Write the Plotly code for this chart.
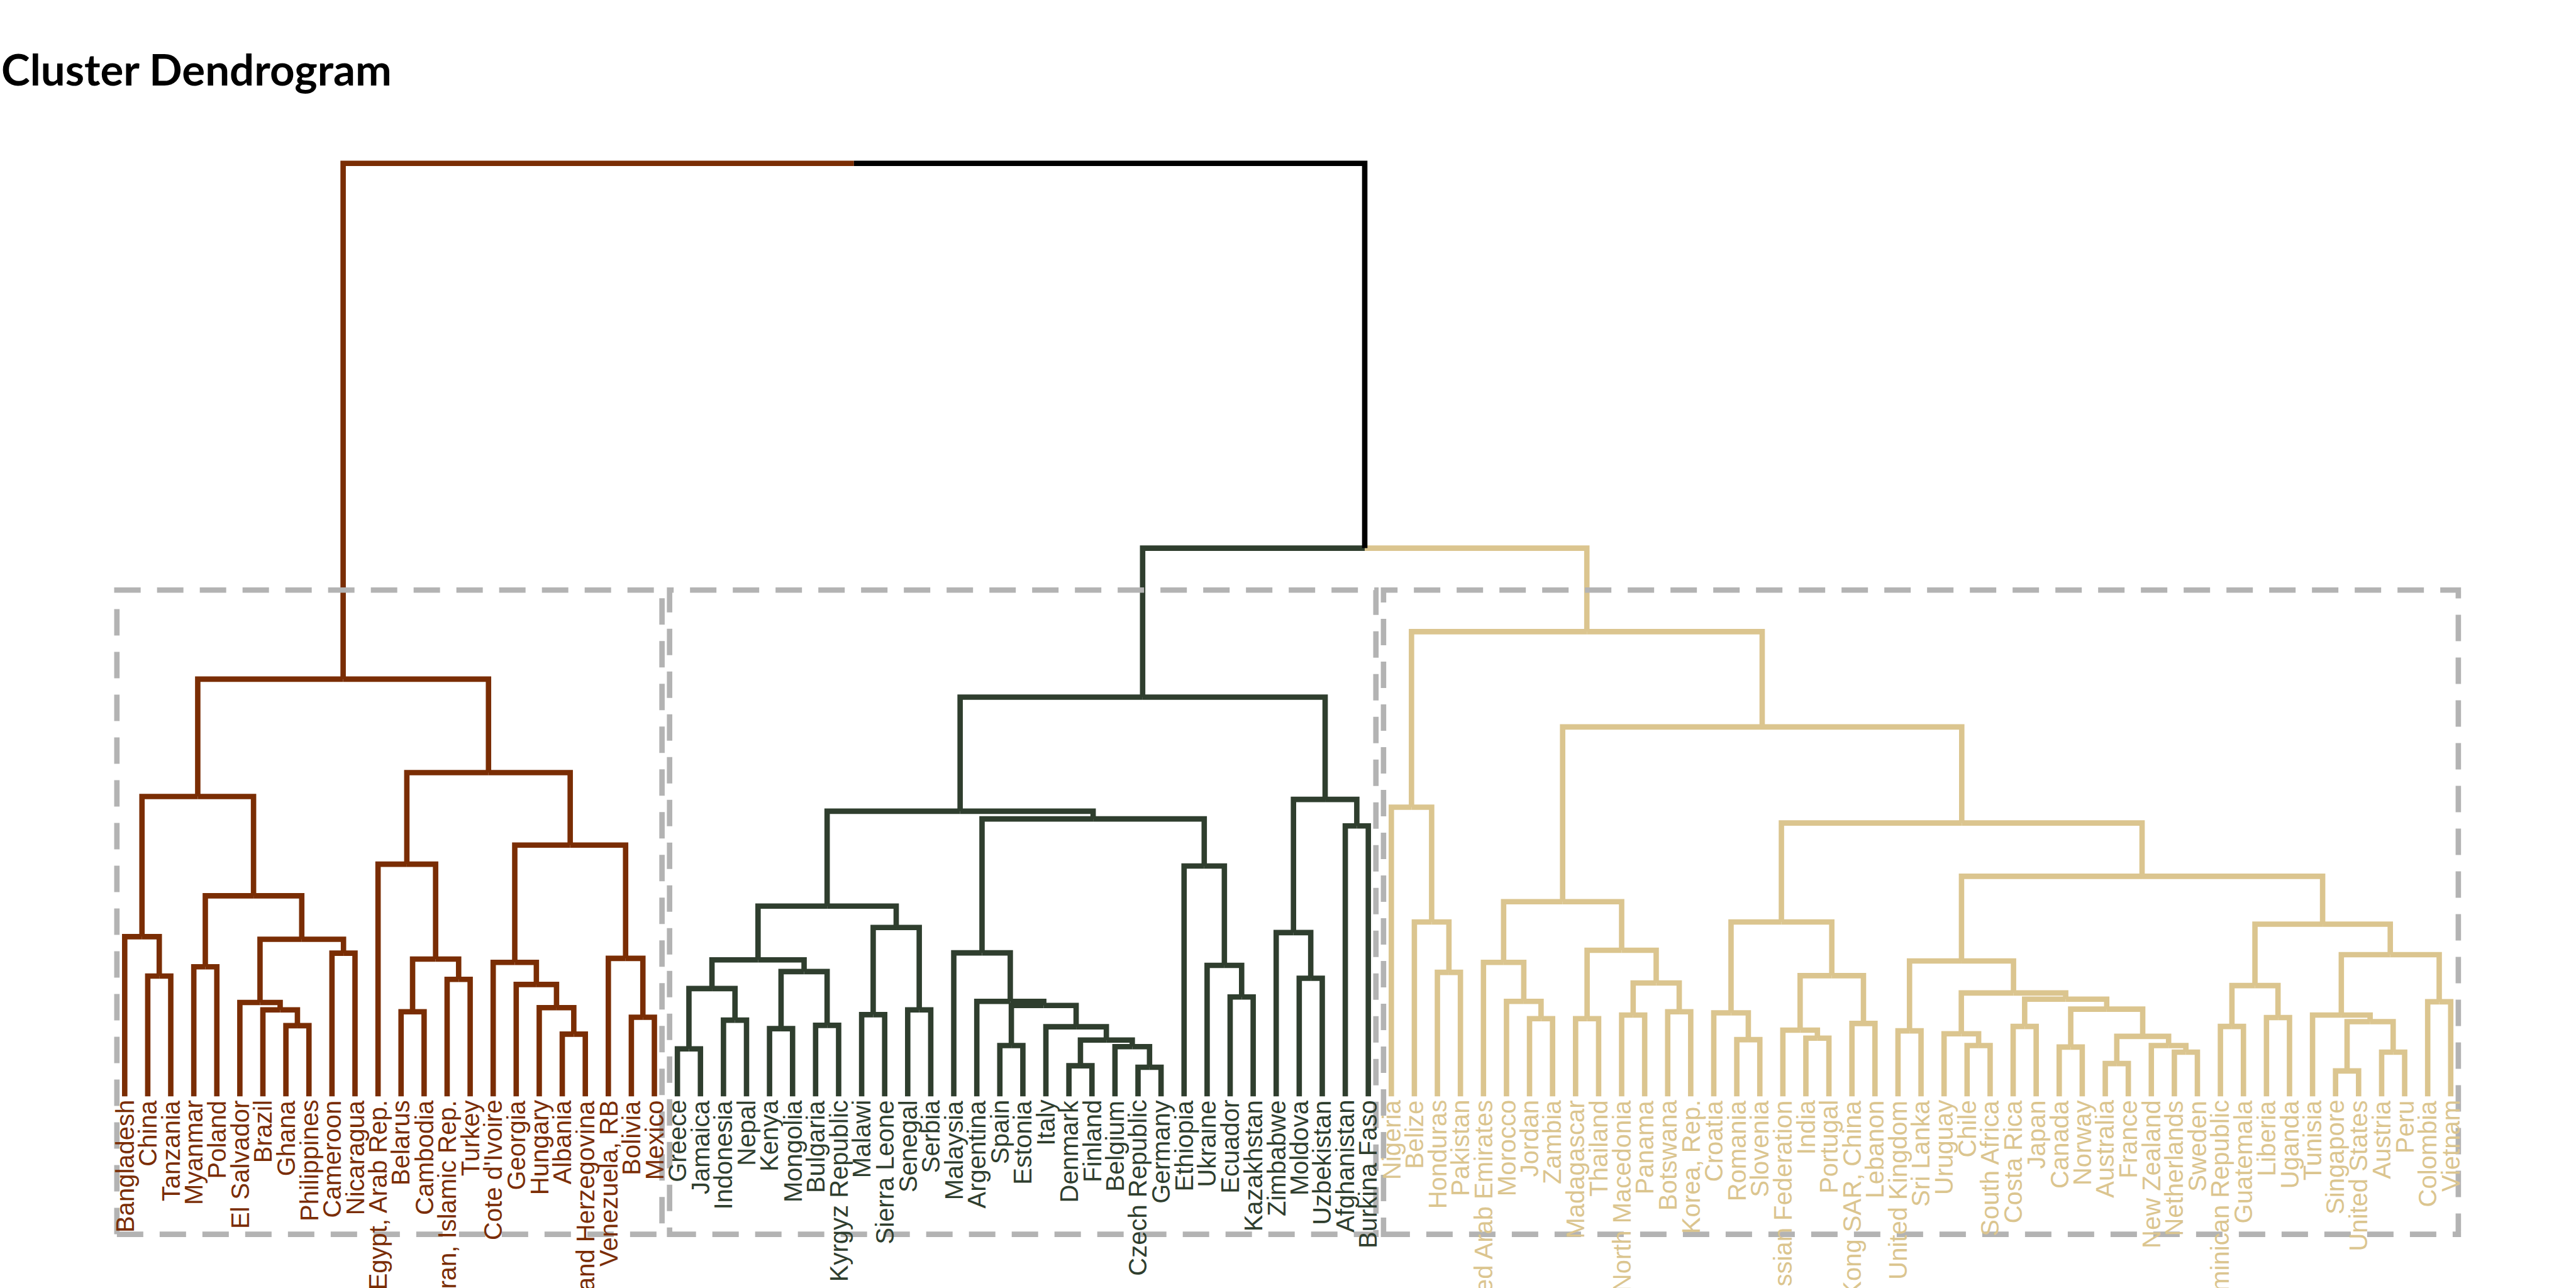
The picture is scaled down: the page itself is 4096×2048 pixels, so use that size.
import plotly.graph_objects as go

# ---------------- data ----------------
cluster1_labels = ["Bangladesh", "China", "Tanzania", "Myanmar", "Poland", "El Salvador", "Brazil",
                   "Ghana", "Philippines", "Cameroon", "Nicaragua", "Egypt, Arab Rep.", "Belarus",
                   "Cambodia", "Iran, Islamic Rep.", "Turkey", "Cote d'Ivoire", "Georgia", "Hungary",
                   "Albania", "Bosnia and Herzegovina", "Venezuela, RB", "Bolivia", "Mexico"]
cluster2_labels = ["Greece", "Jamaica", "Indonesia", "Nepal", "Kenya", "Mongolia", "Bulgaria",
                   "Kyrgyz Republic", "Malawi", "Sierra Leone", "Senegal", "Serbia", "Malaysia",
                   "Argentina", "Spain", "Estonia", "Italy", "Denmark", "Finland", "Belgium",
                   "Czech Republic", "Germany", "Ethiopia", "Ukraine", "Ecuador", "Kazakhstan",
                   "Zimbabwe", "Moldova", "Uzbekistan", "Afghanistan", "Burkina Faso"]
cluster3_labels = ["Nigeria", "Belize", "Honduras", "Pakistan", "United Arab Emirates", "Morocco",
                   "Jordan", "Zambia", "Madagascar", "Thailand", "North Macedonia", "Panama",
                   "Botswana", "Korea, Rep.", "Croatia", "Romania", "Slovenia", "Russian Federation",
                   "India", "Portugal", "Hong Kong SAR, China", "Lebanon", "United Kingdom",
                   "Sri Lanka", "Uruguay", "Chile", "South Africa", "Costa Rica", "Japan", "Canada",
                   "Norway", "Australia", "France", "New Zealand", "Netherlands", "Sweden",
                   "Dominican Republic", "Guatemala", "Liberia", "Uganda", "Tunisia", "Singapore",
                   "United States", "Austria", "Peru", "Colombia", "Vietnam"]

# merges (hclust style): a string = leaf, an int = index of an earlier merge
merge_left = [
    "China", "Bangladesh", "Myanmar", "Ghana", "Brazil", "El Salvador", "Cameroon", 5, 2, 1,
    "Belarus", "Iran, Islamic Rep.", 10, "Egypt, Arab Rep.", "Albania", "Hungary", "Georgia",
    "Cote d'Ivoire", "Bolivia", "Venezuela, RB", 17, 13, 9,
    "Greece", "Indonesia", 23, "Kenya", "Bulgaria", 26, 25, "Malawi", "Senegal", 30, 29,
    "Spain", "Denmark", "Czech Republic", "Belgium", 35, "Italy", 34, "Argentina", "Malaysia",
    "Ecuador", "Ukraine", "Ethiopia", 42, 33, "Moldova", "Zimbabwe", "Afghanistan", 49, 47,
    "Honduras", "Belize", "Nigeria", "Jordan", "Morocco", "United Arab Emirates", "Madagascar",
    "North Macedonia", "Botswana", 60, 59, 58, "Romania", "Croatia", "India",
    "Russian Federation", "Hong Kong SAR, China", 68, 66, "United Kingdom", "Chile", "Uruguay",
    "Costa Rica", "Canada", "Australia", "Netherlands", "New Zealand", 77, 76, 75, 74, 72,
    "Dominican Republic", "Liberia", 85, "Singapore", "Austria", 88, "Tunisia", "Colombia", 91,
    87, 84, 71, 64, 55, 52, 22]
merge_right = [
    "Tanzania", 0, "Poland", "Philippines", 3, 4, "Nicaragua", 6, 7, 8,
    "Cambodia", "Turkey", 11, 12, "Bosnia and Herzegovina", 14, 15, 16, "Mexico", 18, 19, 20, 21,
    "Jamaica", "Nepal", 24, "Mongolia", "Kyrgyz Republic", 27, 28, "Sierra Leone", "Serbia", 31,
    32, "Estonia", "Finland", "Germany", 36, 37, 38, 39, 40, 41, "Kazakhstan", 43, 44, 45, 46,
    "Uzbekistan", 48, "Burkina Faso", 50, 51,
    "Pakistan", 53, 54, "Zambia", 56, 57, "Thailand", "Panama", "Korea, Rep.", 61, 62, 63,
    "Slovenia", 65, "Portugal", 67, "Lebanon", 69, 70, "Sri Lanka", "South Africa", 73, "Japan",
    "Norway", "France", "Sweden", 78, 79, 80, 81, 82, 83, "Guatemala", "Uganda", 86,
    "United States", "Peru", 89, 90, "Vietnam", 92, 93, 94, 95, 96, 97, 98, 99]
merge_height = [
    3.27, 4.34, 3.52, 1.92, 2.35, 2.55, 3.89, 4.27, 5.45, 8.15,
    2.30, 3.18, 3.73, 6.31, 1.69, 2.41, 3.04, 3.64, 2.15, 3.75, 6.83, 8.80, 11.34,
    1.29, 2.07, 2.93, 1.84, 1.93, 3.39, 3.71, 2.22, 2.35, 4.59, 5.17,
    1.38, 0.83, 0.79, 1.35, 1.53, 1.89, 2.47, 2.58, 3.90, 2.70, 3.56, 6.26, 7.54, 7.75,
    3.21, 4.45, 7.35, 8.07, 10.85,
    3.37, 4.74, 7.86, 2.11, 2.58, 3.64, 2.11, 2.21, 2.30, 3.08, 3.97, 5.29,
    1.54, 2.27, 1.58, 1.80, 1.98, 3.28, 4.74, 1.78, 1.38, 1.70, 1.90, 1.34, 0.89, 1.20, 1.38,
    1.63, 2.37, 2.64, 2.81, 3.68, 1.90, 2.14, 3.01, 0.69, 1.20, 2.03, 2.21, 2.57, 3.85, 4.68,
    5.98, 7.43, 10.04, 12.63, 14.90, 25.36]

cluster_colors = ["#7A2D04", "#2F3E2E", "#DBC58F"]
top_color = "#000000"
rect_color = "#B3B3B3"
title_text = "Cluster Dendrogram"

# ---------------- build tree geometry ----------------
clusters = [cluster1_labels, cluster2_labels, cluster3_labels]
leaf_order = cluster1_labels + cluster2_labels + cluster3_labels
leaf_pos = {name: i for i, name in enumerate(leaf_order)}
leaf_cl = {}
for ci, labs in enumerate(clusters):
    for n in labs:
        leaf_cl[n] = ci

node_x, node_h, node_c = [], [], []


def info(c):
    if isinstance(c, str):
        return leaf_pos[c], 0.0, leaf_cl[c]
    return node_x[c], node_h[c], node_c[c]


seg = {i: ([], []) for i in [0, 1, 2, None]}
for a, b, h in zip(merge_left, merge_right, merge_height):
    xa, ha, ca = info(a)
    xb, hb, cb = info(b)
    xm = (xa + xb) / 2.0
    for xc, hc, cc in [(xa, ha, ca), (xb, hb, cb)]:
        sx, sy = seg[cc]
        sx += [xc, xc, xm, None]
        sy += [hc, h, h, None]
    node_x.append(xm)
    node_h.append(h)
    node_c.append(ca if ca == cb else None)

fig = go.Figure()
for key, (sx, sy) in seg.items():
    col = top_color if key is None else cluster_colors[key]
    fig.add_trace(go.Scatter(x=sx, y=sy, mode="lines",
                             line=dict(color=col, width=8.6),
                             hoverinfo="skip", showlegend=False))

# labels
for name in leaf_order:
    fig.add_annotation(x=leaf_pos[name], y=0, xref="x", yref="y", text=name,
                       textangle=-90, xanchor="center", yanchor="top", yshift=-4,
                       showarrow=False,
                       font=dict(family="Liberation Sans, Arial, sans-serif", size=40,
                                 color=cluster_colors[leaf_cl[name]]))

# cluster rectangles
rect_bottom, rect_top = -3.75, 13.76
for labs in clusters:
    fig.add_shape(type="rect", xref="x", yref="y",
                  x0=leaf_pos[labs[0]] - 0.34, x1=leaf_pos[labs[-1]] + 0.33,
                  y0=rect_bottom, y1=rect_top,
                  line=dict(color=rect_color, width=8.6, dash="42px,26px"),
                  fillcolor="rgba(0,0,0,0)", layer="above")

fig.add_annotation(text=title_text, xref="paper", yref="paper", x=0, y=1 - 109 / 2048,
                   xanchor="left", yanchor="middle", showarrow=False,
                   font=dict(family="Lato", size=69, color="#000000", weight="bold"))

fig.update_layout(
    width=4096, height=2048,
    margin=dict(l=0, r=0, t=0, b=0),
    paper_bgcolor="white", plot_bgcolor="white",
    xaxis=dict(range=[-5.415, 106.44], visible=False, fixedrange=True),
    yaxis=dict(range=[-5.21, 29.80], visible=False, fixedrange=True),
)

fig.write_html("out.html")
